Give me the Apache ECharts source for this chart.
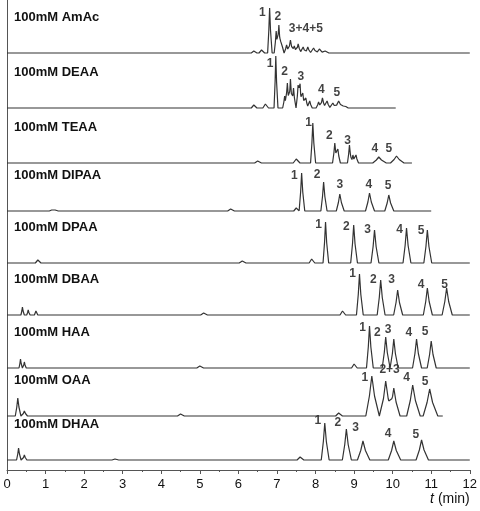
<!DOCTYPE html>
<html>
<head>
<meta charset="utf-8">
<script src="https://cdn.jsdelivr.net/npm/echarts@6/dist/echarts.min.js"></script>
<style>html,body{margin:0;padding:0;background:#fff}#main{width:480px;height:511px}</style>
</head>
<body>
<div id="main"></div>
<script>
// trace names, baseline height (px above time axis) and end time
var names = ['100mM AmAc', '100mM DEAA', '100mM TEAA', '100mM DIPAA', '100mM DPAA',
             '100mM DBAA', '100mM HAA', '100mM OAA', '100mM DHAA'];
var baselines = [417, 362, 307, 259, 207, 155, 102, 54, 10];
var endTimes = [12, 10.08, 10.5, 11.0, 12, 12, 12, 11.3, 12];

// peaks per trace: [time, height, halfwidth]
var peaks = [
  [[6.4,2,0.05],[6.6,3,0.05],[6.81,45,0.04],[6.98,22,0.04],[7.05,28,0.04],[7.12,12,0.04],[7.25,8,0.05],[7.35,13,0.05],[7.45,7,0.05],[7.55,9,0.05],[7.68,6,0.05],[7.8,6,0.05],[7.95,5,0.06],[8.1,4,0.06],[8.25,2,0.06]],
  [[6.4,3,0.05],[6.7,4,0.05],[6.97,52,0.035],[7.2,12,0.04],[7.27,25,0.04],[7.35,29,0.04],[7.43,20,0.04],[7.55,24,0.04],[7.6,20,0.04],[7.67,15,0.04],[7.75,10,0.04],[7.85,7,0.04],[8.08,6,0.05],[8.18,10,0.05],[8.3,7,0.05],[8.45,5,0.06],[8.6,7,0.08],[8.75,3,0.06]],
  [[6.5,2,0.06],[7.5,4,0.06],[7.93,40,0.045],[8.5,20,0.045],[8.58,14,0.04],[8.88,18,0.04],[8.97,8,0.04],[9.05,8,0.04],[9.64,6,0.12],[10.1,7,0.12]],
  [[1.2,2,0.08],[5.8,2,0.06],[7.5,3,0.05],[7.64,38,0.05],[8.21,29,0.055],[8.63,17,0.07],[9.4,18,0.08],[9.9,16,0.08]],
  [[0.8,3,0.05],[6.1,2,0.06],[7.9,4,0.05],[8.26,41,0.05],[8.99,38,0.06],[9.53,33,0.07],[10.36,35,0.07],[10.9,33,0.07]],
  [[0.4,8,0.03],[0.55,5,0.03],[0.75,4,0.03],[5.1,2,0.06],[8.7,4,0.05],[9.14,41,0.06],[9.69,35,0.07],[10.13,25,0.08],[10.9,27,0.08],[11.4,27,0.09]],
  [[0.35,9,0.03],[0.45,6,0.03],[5.0,2,0.06],[9.0,4,0.05],[9.4,42,0.06],[9.82,31,0.07],[10.03,29,0.07],[10.62,29,0.08],[11.0,27,0.08]],
  [[0.28,18,0.05],[0.45,5,0.05],[4.5,2,0.06],[8.6,3,0.06],[9.46,40,0.12],[9.82,35,0.11],[10.03,28,0.1],[10.52,31,0.12],[10.96,27,0.13]],
  [[0.3,12,0.04],[0.45,5,0.04],[2.8,1,0.06],[7.6,3,0.06],[8.24,37,0.07],[8.8,31,0.08],[9.23,19,0.11],[10.03,19,0.11],[10.75,20,0.11]]
];

// peak labels per trace: [time, height, text]
var labels = [
  [[6.62,40,'1'],[7.02,36,'2'],[7.75,24,'3+4+5']],
  [[6.82,44,'1'],[7.2,36,'2'],[7.62,31,'3'],[8.15,18,'4'],[8.55,15,'5']],
  [[7.82,40,'1'],[8.36,27,'2'],[8.83,22,'3'],[9.54,14,'4'],[9.9,14,'5']],
  [[7.45,35,'1'],[8.04,36,'2'],[8.63,26,'3'],[9.38,26,'4'],[9.88,25,'5']],
  [[8.08,38,'1'],[8.8,36,'2'],[9.35,33,'3'],[10.18,33,'4'],[10.74,32,'5']],
  [[8.96,41,'1'],[9.5,35,'2'],[9.97,35,'3'],[10.74,30,'4'],[11.35,30,'5']],
  [[9.22,40,'1'],[9.6,35,'2'],[9.88,38,'3'],[10.42,35,'4'],[10.84,36,'5']],
  [[9.28,38,'1'],[9.92,46,'2+3'],[10.36,38,'4'],[10.84,34,'5']],
  [[8.06,39,'1'],[8.58,37,'2'],[9.04,32,'3'],[9.88,26,'4'],[10.6,25,'5']]
];

var widen = 1.3;
var tmpl = [[-1, 0], [-0.4, 0.5], [0, 1], [0.45, 0.5], [1.25, 0]];
function signal(list, t) {
  var s = 0;
  list.forEach(function (p) {
    for (var i = 0; i < tmpl.length - 1; i++) {
      var a = p[0] + tmpl[i][0] * p[2] * widen, b = p[0] + tmpl[i + 1][0] * p[2] * widen;
      if (t >= a && t <= b) {
        var f = (t - a) / (b - a);
        s += p[1] * (tmpl[i][1] + f * (tmpl[i + 1][1] - tmpl[i][1]));
        break;
      }
    }
  });
  return s;
}

var series = [];
var graphics = [];
names.forEach(function (name, k) {
  var ts = [0, endTimes[k]];
  peaks[k].forEach(function (p) {
    tmpl.forEach(function (q) { ts.push(p[0] + q[0] * p[2] * widen); });
  });
  ts = ts.filter(function (t) { return t >= 0 && t <= endTimes[k]; }).sort(function (a, b) { return a - b; });
  series.push({
    type: 'line', showSymbol: false, animation: false,
    lineStyle: { color: '#333', width: 1.2 },
    data: ts.map(function (t) { return [t, baselines[k] + signal(peaks[k], t)]; })
  });
  series.push({
    type: 'scatter', symbolSize: 0, animation: false,
    label: { show: true, position: 'inside', formatter: function (d) { return d.data[2]; },
             color: '#111', fontWeight: 'bold', fontSize: 12, fontFamily: 'Liberation Sans' },
    data: labels[k].map(function (l) { return [l[0], baselines[k] + l[1], l[2]]; })
  });
  graphics.push({
    type: 'text', left: 14, top: 470 - baselines[k] - 42,
    style: { text: name, fill: '#111', font: 'bold 13px Liberation Sans' }
  });
});

var chart = echarts.init(document.getElementById('main'));
chart.setOption({
  animation: false,
  grid: { left: 7, right: 10, top: 0, bottom: 41 },
  graphic: graphics,
  xAxis: {
    type: 'value', min: 0, max: 12, interval: 1,
    axisLine: { lineStyle: { color: '#555' } },
    axisTick: { length: 4, lineStyle: { color: '#555' } },
    minorTick: { show: true, splitNumber: 2, length: 2 },
    splitLine: { show: false },
    axisLabel: { color: '#111', fontSize: 13, fontFamily: 'Liberation Sans' },
    name: '{i|t} (min)', nameLocation: 'end', nameGap: 0,
    nameTextStyle: { color: '#111', fontSize: 14, fontFamily: 'Liberation Sans',
      align: 'right', verticalAlign: 'top', padding: [22, 0, 0, 0],
      rich: { i: { fontStyle: 'italic', fontSize: 14, fontFamily: 'Liberation Sans' } } }
  },
  yAxis: {
    type: 'value', min: 0, max: 470,
    axisLine: { show: true, lineStyle: { color: '#555' } },
    axisTick: { show: false }, axisLabel: { show: false }, splitLine: { show: false }
  },
  series: series
});
</script>
</body>
</html>
